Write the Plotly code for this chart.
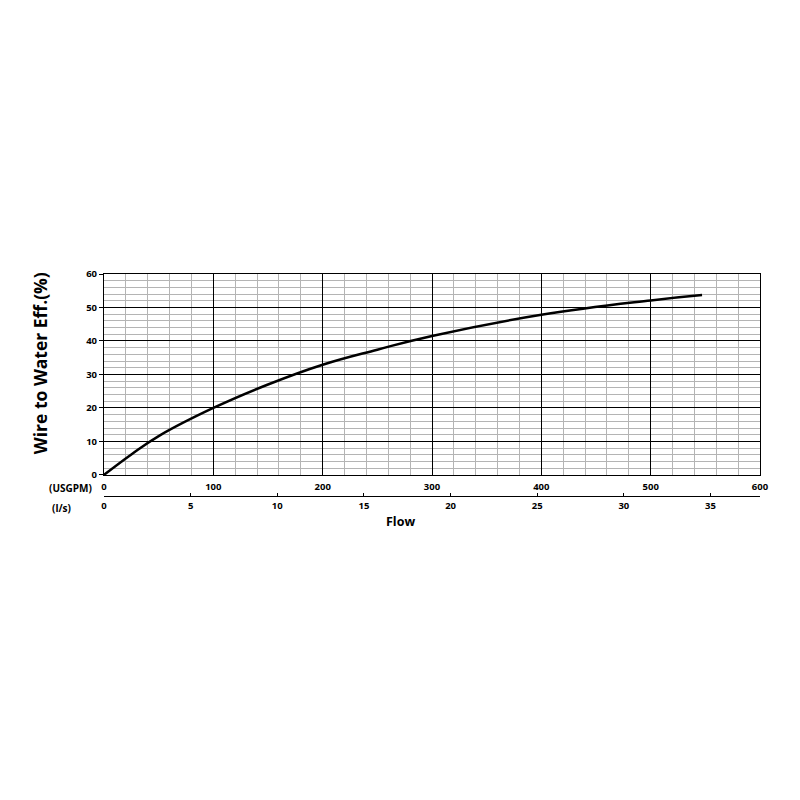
import plotly.graph_objects as go

# pump curve
flow_gpm = [0, 25, 50, 100, 150, 200, 250, 300, 400, 500, 547]
efficiency = [0, 6.1, 11.6, 20, 27.0, 32.9, 37.4, 41.5, 47.8, 52.1, 53.7]

gpm_ticks = [0, 100, 200, 300, 400, 500, 600]
ls_ticks = [0, 5, 10, 15, 20, 25, 30, 35]
eff_ticks = [0, 10, 20, 30, 40, 50, 60]

GPM_PER_LS = 15.850
font = dict(family="Open Sans", size=9.5, color="black", weight="bold")
label_font = dict(family="Open Sans", size=10, color="black", weight="bold")

fig = go.Figure()
fig.add_trace(go.Scatter(
    x=flow_gpm, y=efficiency, mode="lines",
    line=dict(color="black", width=2.5, shape="spline", smoothing=1.2),
    showlegend=False, hoverinfo="skip",
))
# dummy trace so the l/s axis is drawn
fig.add_trace(go.Scatter(x=[0], y=[0], xaxis="x2", mode="markers",
                         marker=dict(opacity=0), showlegend=False, hoverinfo="skip"))

fig.update_layout(
    width=800, height=800,
    plot_bgcolor="white", paper_bgcolor="white",
    margin=dict(l=96, r=48, t=266, b=312),
    font=font,
    xaxis=dict(
        range=[0, 600], tickvals=gpm_ticks, ticks="",
        showgrid=True, gridcolor="black", gridwidth=1.2,
        minor=dict(dtick=20, showgrid=True, gridcolor="#b4b4b4", gridwidth=1),
        showline=True, linecolor="black", linewidth=1.2, mirror=True,
        zeroline=False, tickfont=font, anchor="y", ticklabelstandoff=3,
    ),
    xaxis2=dict(
        range=[0, 600 / GPM_PER_LS], tickvals=ls_ticks, overlaying="x",
        anchor="free", position=0, side="bottom",
        ticks="inside", ticklen=3, tickcolor="black",
        showgrid=False, zeroline=False,
        showline=True, linecolor="black", linewidth=1.2, tickfont=font,
    ),
    yaxis=dict(
        range=[0, 60], tickvals=eff_ticks, domain=[0.095, 1],
        ticks="outside", ticklen=4, tickcolor="black",
        showgrid=True, gridcolor="black", gridwidth=1.2,
        minor=dict(dtick=2, showgrid=True, gridcolor="#b4b4b4", gridwidth=1),
        showline=True, linecolor="black", linewidth=1.2, mirror=True,
        zeroline=False, tickfont=font,
    ),
)

fig.add_annotation(text="(USGPM)", xref="paper", yref="paper", x=-0.015, y=0.036,
                   xanchor="right", yanchor="middle", showarrow=False, font=label_font)
fig.add_annotation(text="(l/s)", xref="paper", yref="paper", x=-0.047, y=-0.054,
                   xanchor="right", yanchor="middle", showarrow=False, font=label_font)
fig.add_annotation(text="Flow", xref="paper", yref="paper", x=0.452, y=-0.117,
                   xanchor="center", yanchor="middle", showarrow=False,
                   font=dict(family="Open Sans", size=12.5, color="black", weight="bold"))
fig.add_annotation(text="Wire to Water Eff.(%)", xref="paper", yref="paper", x=-0.0985, y=0.6,
                   xanchor="center", yanchor="middle", textangle=-90, showarrow=False,
                   font=dict(family="Open Sans", size=17.5, color="black", weight="bold"))

fig.write_html("out.html")
